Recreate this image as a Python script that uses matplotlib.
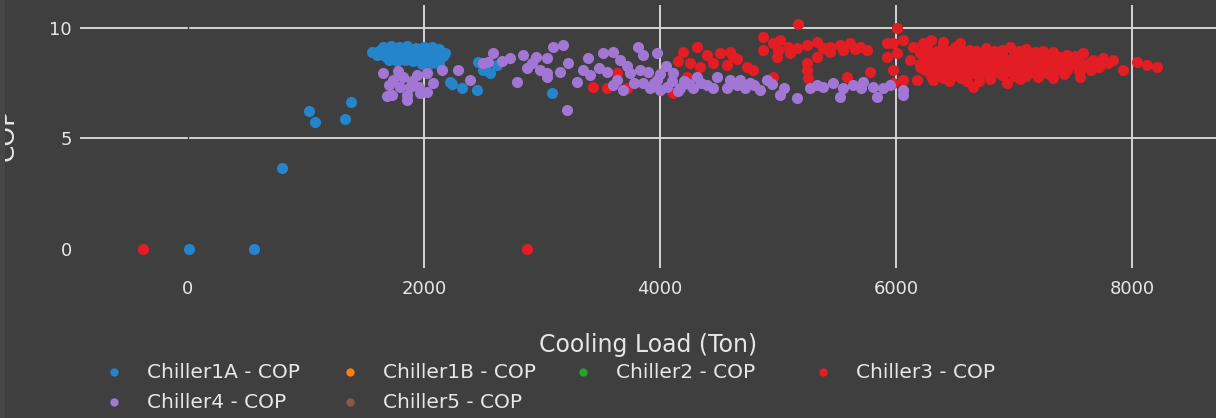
import matplotlib
matplotlib.use("Agg")
import matplotlib.pyplot as plt
from matplotlib.patches import Rectangle

# (cooling load in Ton, COP) pairs
chiller1a_points = [
    (8, 0.0), (560, 0.0), (797, 3.67), (1025, 6.24), (1076, 5.74), (1330, 5.88), (1381, 6.65),
    (2220, 7.56), (2237, 7.45), (2322, 7.28), (2449, 7.19), (2458, 8.46), (2500, 8.1),
    (2559, 7.96), (2619, 8.33), (3085, 7.06),
    (1650, 9.15), (1720, 9.2), (1790, 9.12), (1860, 9.18), (1930, 9.1), (2000, 9.16), (2070, 9.12), (2130, 9.05),
    (1560, 8.9), (1620, 8.97), (1690, 8.92), (1760, 8.99), (1830, 8.93), (1900, 8.98), (1970, 8.9),
    (2040, 8.96), (2110, 8.92), (2180, 8.85),
    (1600, 8.78), (1670, 8.72), (1740, 8.77), (1810, 8.7), (1880, 8.76), (1950, 8.72), (2020, 8.78),
    (2090, 8.7), (2160, 8.74),
    (1700, 8.55), (1770, 8.5), (1840, 8.57), (1910, 8.52), (1980, 8.56), (2050, 8.5), (2120, 8.55),
    (1980, 8.38), (2060, 8.42), (2130, 8.35),
]
chiller1b_points = []
chiller2_points = []
chiller3_points = [
    (-381, 0.0), (2873, 0.0),
    (3432, 7.33), (3551, 7.28), (3636, 7.96), (3720, 7.28), (4110, 7.06),
    (4195, 8.91), (4313, 9.14), (4398, 8.78), (4508, 8.87), (4593, 8.91), (4254, 8.42),
    (4339, 8.24), (4449, 8.42), (4568, 8.33), (4229, 7.78), (4150, 8.5), (4650, 8.6),
    (5169, 10.2), (4873, 9.6), (4958, 9.3), (5017, 9.46), (5085, 9.14), (5161, 9.1), (5246, 9.23),
    (5331, 9.37), (5441, 9.14), (5525, 9.23), (5610, 9.32), (5695, 9.14), (5754, 9.0), (4873, 9.0),
    (4992, 8.69), (5102, 8.87), (5246, 8.42), (5331, 8.69), (5441, 8.9), (5246, 8.1), (4619, 8.69),
    (4737, 8.24), (4788, 8.1), (4958, 7.78), (5254, 7.74), (5585, 7.78), (5780, 8.0),
    (6008, 10.0), (5924, 9.32), (5975, 9.3), (6059, 9.46), (6144, 9.14), (6229, 9.32),
    (5924, 8.69), (6008, 8.87), (6119, 8.55), (6203, 8.24), (5975, 8.1), (6059, 7.65),
    (5975, 7.51), (6178, 7.65), (5000, 9.0), (5380, 9.1), (5550, 9.0), (5650, 9.05),
    (6300, 9.45), (6400, 9.35), (6540, 9.3),
    (6260, 9.1), (6380, 9.05), (6500, 9.12), (6620, 9.02), (6760, 9.1), (6900, 9.0), (6970, 9.14),
    (7100, 9.05), (7250, 8.98),
    (6200, 8.85), (6300, 8.8), (6400, 8.88), (6500, 8.82), (6600, 8.86), (6700, 8.8), (6800, 8.9),
    (6900, 8.83), (7000, 8.86), (7100, 8.8), (7200, 8.88), (7330, 8.91), (7450, 8.8), (7585, 8.87),
    (6250, 8.6), (6350, 8.65), (6450, 8.57), (6550, 8.62), (6650, 8.58), (6750, 8.64), (6850, 8.6),
    (6950, 8.56), (7050, 8.63), (7150, 8.58), (7250, 8.62), (7350, 8.6), (7450, 8.55), (7550, 8.62),
    (7669, 8.55), (7754, 8.64), (7839, 8.55),
    (6200, 8.35), (6300, 8.38), (6400, 8.32), (6500, 8.37), (6600, 8.3), (6700, 8.36), (6800, 8.33),
    (6900, 8.38), (7000, 8.31), (7100, 8.36), (7200, 8.33), (7300, 8.37), (7400, 8.3), (7500, 8.35),
    (7600, 8.32), (7700, 8.36), (8042, 8.46), (8127, 8.33),
    (6250, 8.1), (6350, 8.06), (6450, 8.12), (6550, 8.08), (6650, 8.1), (6750, 8.05), (6850, 8.12),
    (6950, 8.07), (7050, 8.1), (7150, 8.05), (7250, 8.1), (7350, 8.08), (7450, 8.12), (7550, 8.05),
    (7650, 8.1), (7924, 8.1), (8212, 8.24),
    (6300, 7.85), (6400, 7.82), (6500, 7.88), (6600, 7.83), (6700, 7.86), (6800, 7.8), (6900, 7.87),
    (7000, 7.82), (7100, 7.85), (7200, 7.8), (7331, 7.74), (7559, 7.78),
    (6314, 7.65), (6450, 7.6), (6600, 7.62), (6700, 7.58), (6941, 7.51), (6653, 7.33),
    # filling the dense band
    (6350, 8.97), (6450, 8.98), (6560, 8.95), (6680, 8.97), (6830, 8.96), (7040, 8.95), (7180, 8.93),
    (6280, 8.72), (6420, 8.74), (6520, 8.71), (6640, 8.73), (6780, 8.72), (6900, 8.74), (7020, 8.71),
    (7140, 8.73), (7280, 8.72), (7400, 8.7), (7520, 8.74),
    (6240, 8.47), (6380, 8.48), (6500, 8.46), (6620, 8.49), (6730, 8.47), (6860, 8.46), (6980, 8.48),
    (7120, 8.47), (7240, 8.46), (7380, 8.48), (7520, 8.47), (7640, 8.45), (7800, 8.4),
    (6330, 8.22), (6440, 8.23), (6560, 8.21), (6690, 8.22), (6810, 8.24), (6930, 8.21), (7060, 8.22),
    (7180, 8.23), (7300, 8.2), (7430, 8.22), (7580, 8.2), (7720, 8.22),
    (6380, 7.97), (6520, 7.96), (6650, 7.98), (6760, 7.95), (6880, 7.97), (7000, 7.96), (7130, 7.97),
    (7280, 7.95), (7420, 7.93),
    (6400, 7.72), (6550, 7.73), (6800, 7.7), (7050, 7.7),
]
chiller4_points = [
    (1653, 7.96), (1737, 7.65), (1686, 6.9), (1856, 6.97), (1881, 7.33), (1941, 7.87), (2025, 7.96),
    (2025, 7.1), (1822, 7.8), (1797, 7.33), (1966, 7.06), (1856, 6.74), (1729, 6.97), (1700, 7.4),
    (1780, 8.05), (1900, 7.6), (2080, 7.5), (1960, 7.35),
    (2153, 8.1), (2288, 8.1), (2390, 7.65), (2585, 8.87), (2729, 8.64), (2788, 7.56), (2839, 8.78),
    (2915, 8.42), (2983, 8.1), (3042, 7.78), (2500, 8.42), (2542, 8.46), (2660, 8.5), (2870, 8.2),
    (2950, 8.7),
    (3093, 9.14), (3178, 9.23), (3042, 8.64), (3220, 8.42), (3390, 8.64), (3517, 8.87), (3602, 8.91),
    (3661, 8.55), (3814, 9.14), (3856, 8.78), (3975, 8.87), (3297, 7.56), (3407, 7.87), (3551, 8.0),
    (3636, 7.65), (3746, 7.96), (3831, 8.1), (3856, 7.5), (3975, 7.65), (4059, 7.33), (4110, 7.96),
    (4169, 7.28), (4280, 7.28), (4398, 7.42), (4483, 7.78), (4568, 7.28), (4652, 7.42), (3042, 7.96),
    (3212, 6.29), (3686, 7.19), (3915, 7.28), (4313, 7.78), (3480, 8.2), (3720, 8.3), (3900, 8.0),
    (4000, 7.9), (4050, 8.3), (3950, 7.5), (4100, 7.6), (3780, 7.5), (3600, 7.4), (3350, 8.1),
    (3150, 8.0), (4200, 7.6), (4250, 7.45), (4350, 7.5), (4450, 7.3), (4150, 7.15), (4000, 7.2),
    (4593, 7.65), (4678, 7.65), (4763, 7.51), (4847, 7.19), (4907, 7.65), (5017, 6.97), (5161, 6.83),
    (5271, 7.28), (5381, 7.33), (5466, 7.51), (5551, 7.28), (5525, 6.88), (5636, 7.42), (5720, 7.56),
    (5805, 7.33), (5890, 7.28), (6059, 7.19), (5839, 6.88), (6059, 6.97), (4720, 7.3), (4800, 7.4),
    (4950, 7.45), (5050, 7.3), (5330, 7.4), (5700, 7.3), (5950, 7.4),
]
chiller5_points = []

series_names = ["Chiller1A - COP", "Chiller1B - COP", "Chiller2 - COP", "Chiller3 - COP",
                "Chiller4 - COP", "Chiller5 - COP"]
series_points = [chiller1a_points, chiller1b_points, chiller2_points, chiller3_points,
                 chiller4_points, chiller5_points]
series_colors = ["#2585cc", "#ff7f0e", "#2ca02c", "#e31d24", "#a276d4", "#8c564b"]

x_ticks = [0, 2000, 4000, 6000, 8000]
y_ticks = [0, 5, 10]

bg = "#3f3f3f"
fg = "#e6e6e6"
grid_color = "#d4d4d4"
W, H = 1216, 418

fig = plt.figure(figsize=(W / 100, H / 100), dpi=100, facecolor=bg)
ax = fig.add_axes([80 / W, 1 - 268 / H, 1 - 80 / W, 263 / H])
ax.set_facecolor(bg)

handles = []
for name, pts, col in zip(series_names, series_points, series_colors):
    xs = [p[0] for p in pts]
    ys = [p[1] for p in pts]
    h = ax.scatter(xs, ys, s=64, color=col, label=name, linewidths=0, zorder=3)
    handles.append(h)

ax.set_xlim(-915, 8712)
ax.set_ylim(-0.86, 11.04)
ax.set_xticks(x_ticks)
ax.set_yticks(y_ticks)
ax.tick_params(length=0, colors=fg, labelsize=13)
ax.tick_params(axis="x", pad=9)
ax.tick_params(axis="y", pad=6)
for s in ax.spines.values():
    s.set_visible(False)

# gridlines; the zero lines are drawn in background colour like the original
for xv in x_ticks[1:]:
    ax.axvline(xv, color=grid_color, lw=1.4, zorder=1)
for yv in y_ticks[1:]:
    ax.axhline(yv, color=grid_color, lw=1.4, zorder=1)
ax.axvline(0, color=bg, lw=1.0, zorder=1.5)

ax.set_xlabel("Cooling Load (Ton)", color=fg, fontsize=17, labelpad=25)
fig.text(19 / W, 1 - 135 / H, "COP", rotation=90, ha="right", va="center",
         color=fg, fontsize=18)
# the thin lighter strip at the left edge that hides part of the axis title
fig.add_artist(Rectangle((0, 0), 5 / W, 1, transform=fig.transFigure,
                         facecolor="#464748", edgecolor="none", zorder=10))

# legend laid out row by row like the original: one small legend per entry
marker_x = [114, 350, 583, 823]
row_y = [372, 402]
fs = 14.5
for i, (h, name) in enumerate(zip(handles, series_names)):
    r, c = divmod(i, 4)
    lg = fig.legend([h], [name], loc="center left",
                    bbox_to_anchor=((marker_x[c] - 7) / W, 1 - row_y[r] / H),
                    frameon=False, fontsize=fs, labelcolor=fg, handlelength=0.7,
                    handletextpad=1.3, markerscale=0.75, borderpad=0, borderaxespad=0)

fig.savefig("out.png", dpi=100, facecolor=bg)
